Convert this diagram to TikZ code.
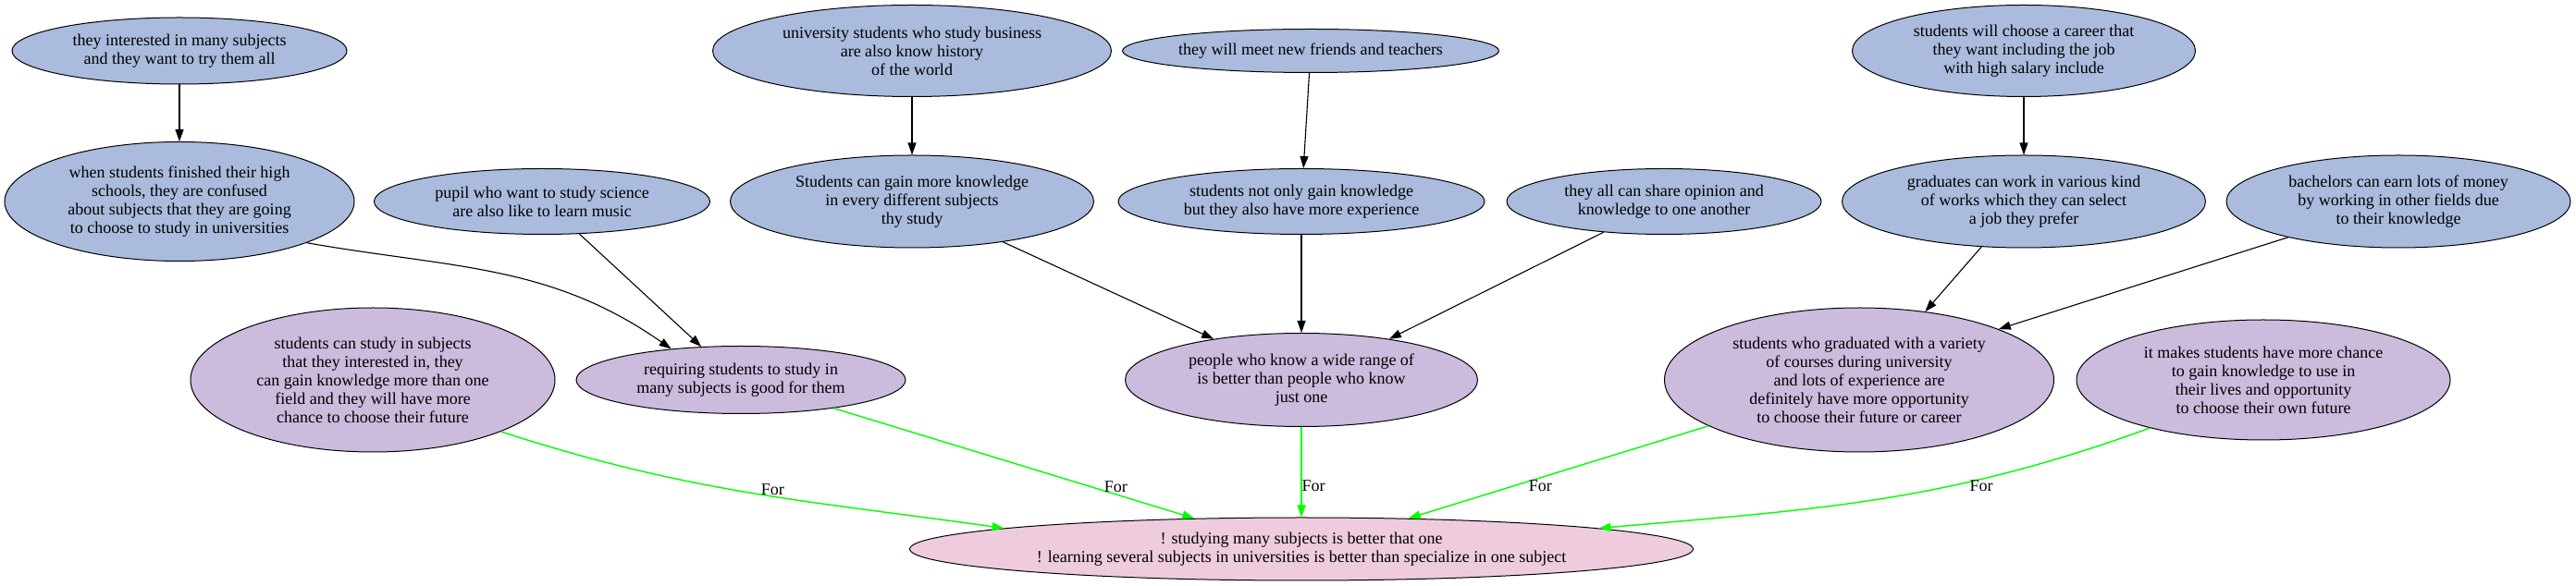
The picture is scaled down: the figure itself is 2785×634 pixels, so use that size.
\documentclass[tikz,border=0pt]{standalone}
\usepackage{fontspec}
\setmainfont{Liberation Serif}
\usepackage{tikz}
\usetikzlibrary{arrows.meta, positioning, shapes.geometric}
\definecolor{premise}{RGB}{170,187,221}
\definecolor{reason}{RGB}{203,187,221}
\definecolor{claim}{RGB}{238,204,221}
\definecolor{pro}{RGB}{0,255,0}

\begin{document}
\begin{tikzpicture}[
    x=1pt, y=1pt,
    bubble/.style={draw, ellipse, inner sep=0pt, align=center, line width=1pt, font=\fontsize{18}{20}\selectfont},
    arrow/.style={-{Triangle[length=13pt, width=9pt]}, line width=1.1pt},
    support/.style={-{Triangle[length=13pt, width=9pt]}, line width=1.4pt, pro},
    forlbl/.style={font=\fontsize{18}{20}\selectfont, inner sep=1pt},
    on grid
]
    \useasboundingbox (0,0) rectangle (2785,634);

    % Main claim
    \node[bubble, fill=claim, minimum width=847pt, minimum height=68pt] (thesis) at (1407,40) {! studying many subjects is better that one\\! learning several subjects in universities is better than specialize in one subject};

    % Reasons
    \node[bubble, fill=reason, minimum width=381pt, minimum height=101pt, above=183pt of thesis] (range) {people who know a wide range of\\is better than people who know\\just one};
    \node[bubble, fill=reason, minimum width=356pt, minimum height=73pt, left=606pt of range] (require) {requiring students to study in\\many subjects is good for them};
    \node[bubble, fill=reason, minimum width=394pt, minimum height=156pt, left=398pt of require] (future) {students can study in subjects\\that they interested in, they\\can gain knowledge more than one\\field and they will have more\\chance to choose their future};
    \node[bubble, fill=reason, minimum width=421pt, minimum height=156pt, right=603pt of range] (variety) {students who graduated with a variety\\of courses during university\\and lots of experience are\\definitely have more opportunity\\to choose their future or career};
    \node[bubble, fill=reason, minimum width=404pt, minimum height=130pt, right=437pt of variety] (chance) {it makes students have more chance\\to gain knowledge to use in\\their lives and opportunity\\to choose their own future};

    % Second row of premises
    \node[bubble, fill=premise, minimum width=396pt, minimum height=71pt, above=193pt of range] (experience) {students not only gain knowledge\\but they also have more experience};
    \node[bubble, fill=premise, minimum width=393pt, minimum height=100pt, left=421pt of experience] (gain) {Students can gain more knowledge\\in every different subjects\\thy study};
    \node[bubble, fill=premise, minimum width=363pt, minimum height=71pt, left=400pt of gain] (music) {pupil who want to study science\\are also like to learn music};
    \node[bubble, fill=premise, minimum width=378pt, minimum height=129pt, left=392pt of music] (confused) {when students finished their high\\schools, they are confused\\about subjects that they are going\\to choose to study in universities};
    \node[bubble, fill=premise, minimum width=340pt, minimum height=71pt, right=392pt of experience] (share) {they all can share opinion and\\knowledge to one another};
    \node[bubble, fill=premise, minimum width=393pt, minimum height=100pt, right=389pt of share] (jobs) {graduates can work in various kind\\of works which they can select\\a job they prefer};
    \node[bubble, fill=premise, minimum width=372pt, minimum height=100pt, right=405pt of jobs] (money) {bachelors can earn lots of money\\by working in other fields due\\to their knowledge};

    % Top row of premises
    \node[bubble, fill=premise, minimum width=362pt, minimum height=72pt, above=163pt of confused] (interest) {they interested in many subjects\\and they want to try them all};
    \node[bubble, fill=premise, minimum width=431pt, minimum height=99pt, above=163pt of gain] (business) {university students who study business\\are also know history\\of the world};
    \node[bubble, fill=premise, minimum width=407pt, minimum height=47pt, above right=163pt and 10pt of experience] (friends) {they will meet new friends and teachers};
    \node[bubble, fill=premise, minimum width=371pt, minimum height=99pt, above=163pt of jobs] (career) {students will choose a career that\\they want including the job\\with high salary include};

    % Arrows between premises
    \draw[arrow] (interest) -- (confused);
    \draw[arrow] (business) -- (gain);
    \draw[arrow] (friends) -- (experience);
    \draw[arrow] (career) -- (jobs);
    \draw[arrow] (confused.-18) to[out=-10, in=145] (require.156);
    \draw[arrow] (music.-41) -- (require.140);
    \draw[arrow] (gain.-24) -- (range.155);
    \draw[arrow] (experience) -- (range);
    \draw[arrow] (share.207) -- (range.25);
    \draw[arrow] (jobs.227) -- (variety.46);
    \draw[arrow] (money.198) -- (variety.20);

    % Support for the claim
    \draw[support] (future.-22) to[out=-18, in=172] node[forlbl, black, above, pos=0.55] {For} (thesis.176);
    \draw[support] (require.-17) -- node[forlbl, black, right=14pt, pos=0.71] {For} (thesis.164);
    \draw[support] (range) -- node[forlbl, black, right, inner sep=0pt, pos=0.65] {For} (thesis);
    \draw[support] (variety.197) -- node[forlbl, black, right=15pt, pos=0.65] {For} (thesis.16);
    \draw[support] (chance.203) to[out=200, in=5] node[forlbl, black, below, pos=0.3] {For} (thesis.4);

\end{tikzpicture}
\end{document}
